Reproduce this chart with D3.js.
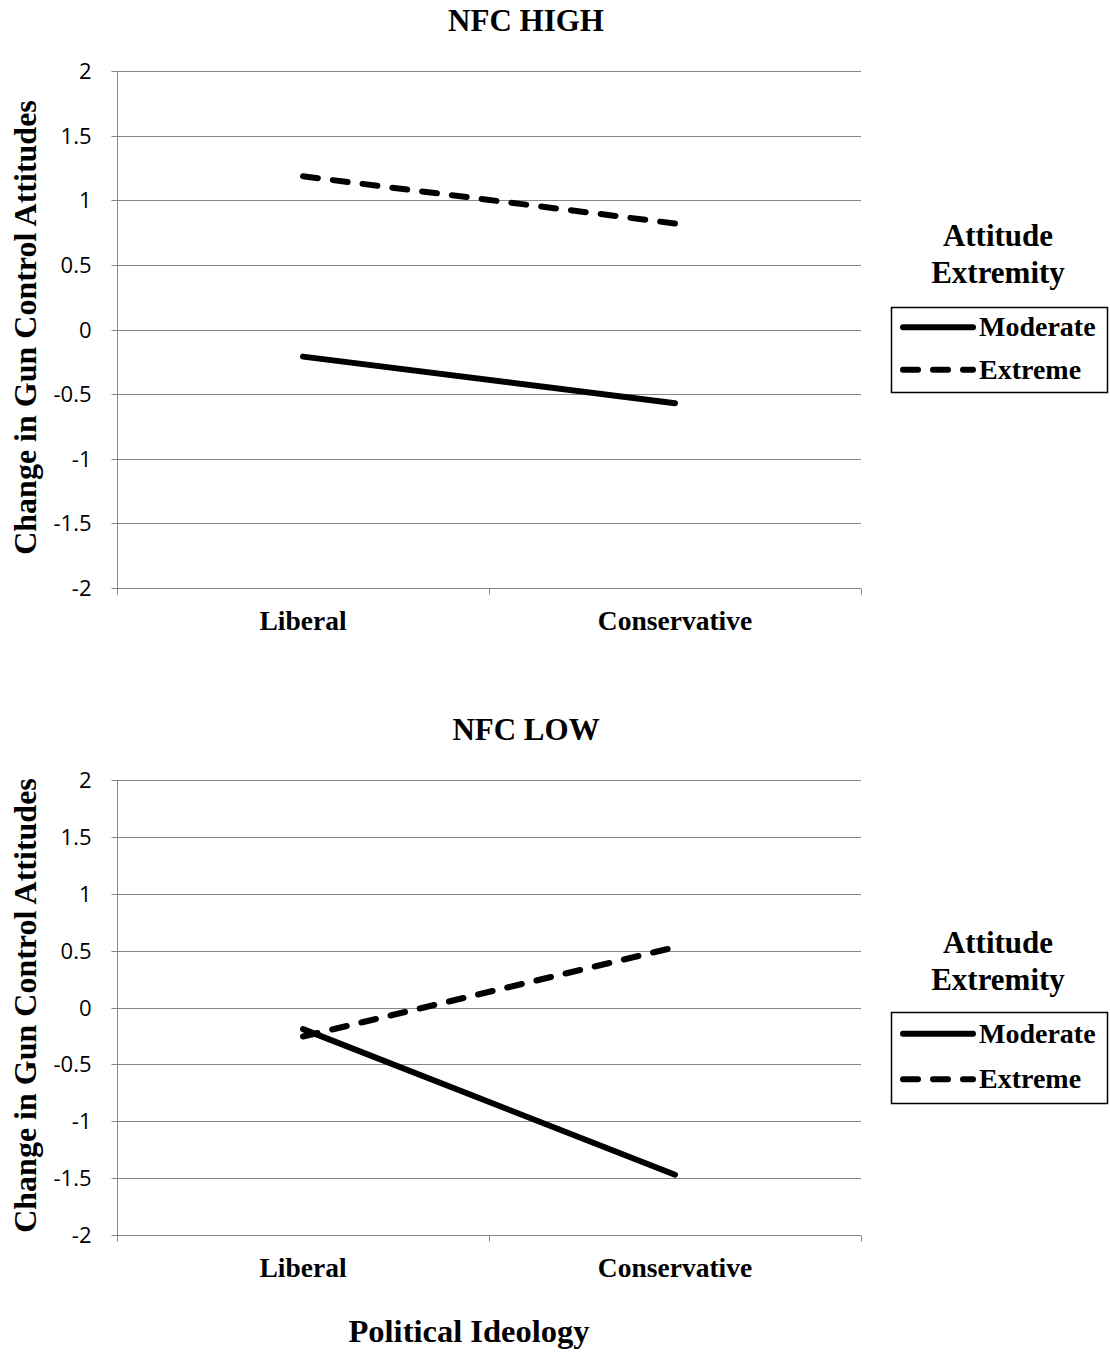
<!DOCTYPE html>
<html><head><meta charset="utf-8">
<script src="https://cdn.jsdelivr.net/npm/d3@7"></script>
<style>
body{margin:0;background:#fff;}
svg{display:block;}
.serif{font-family:"Liberation Serif","Times New Roman",serif;font-weight:bold;fill:#000;}
.tick text{font-family:"Open Sans",Carlito,Calibri,sans-serif;font-size:22px;fill:#000;}
</style></head>
<body>
<script>
const categories = ["Liberal", "Conservative"];
const seriesNames = ["Moderate", "Extreme"];
const highModerate = [-0.21, -0.57];
const highExtreme = [1.185, 0.82];
const lowModerate = [-0.19, -1.47];
const lowExtreme = [-0.255, 0.53];
const yTicks = [2, 1.5, 1, 0.5, 0, -0.5, -1, -1.5, -2];
const yTickLabels = ["2", "1.5", "1", "0.5", "0", "-0.5", "-1", "-1.5", "-2"];
const panelTitles = ["NFC HIGH", "NFC LOW"];

const W = 1110, H = 1352;
const svg = d3.select("body").append("svg").attr("width", W).attr("height", H);

const gridColor = "#878787";
const panels = [
  {title: panelTitles[0], mod: highModerate, ext: highExtreme, top: 71, bottom: 588, titleY: 31, legTitleY: 246, boxTop: 307, boxBottom: 392},
  {title: panelTitles[1], mod: lowModerate, ext: lowExtreme, top: 780, bottom: 1235, titleY: 740, legTitleY: 953, boxTop: 1012, boxBottom: 1103}
];
const left = 117, right = 861;

panels.forEach(p => {
  const g = svg.append("g");
  const y = d3.scaleLinear().domain([-2, 2]).range([p.bottom, p.top]);
  const x = d3.scaleBand().domain(categories).range([left, right]);

  // gridlines
  g.append("g").selectAll("line").data(yTicks).join("line")
    .attr("x1", left).attr("x2", right)
    .attr("y1", d => Math.round(y(d)) + 0.5).attr("y2", d => Math.round(y(d)) + 0.5)
    .attr("stroke", gridColor).attr("stroke-width", 1);

  // y axis
  const yAxis = d3.axisLeft(y).tickValues(yTicks)
    .tickFormat((d, i) => yTickLabels[i]).tickSize(6).tickPadding(20);
  const ya = g.append("g").attr("transform", `translate(${left + 0.5},0)`).call(yAxis);
  ya.select(".domain").attr("stroke", gridColor).attr("d", `M0,${y(2)}V${y(-2)}`);
  ya.selectAll(".tick line").attr("stroke", gridColor);
  ya.selectAll(".tick").attr("transform", d => `translate(0,${Math.round(y(d)) + 0.5})`);

  // x axis
  const xa = g.append("g").attr("transform", `translate(0,${Math.round(y(-2)) + 0.5})`);
  xa.append("line").attr("x1", left).attr("x2", right).attr("stroke", gridColor);
  const bounds = [left, x(categories[1]), right];
  xa.selectAll(".xt").data(bounds).join("line").attr("class", "xt")
    .attr("x1", d => Math.round(d) + 0.5).attr("x2", d => Math.round(d) + 0.5)
    .attr("y1", 0).attr("y2", 6).attr("stroke", gridColor);
  xa.selectAll(".xl").data(categories).join("text").attr("class", "serif xl")
    .attr("x", d => x(d) + x.bandwidth() / 2).attr("y", 41)
    .attr("text-anchor", "middle").attr("font-size", 27.5).text(d => d);

  // title
  g.append("text").attr("class", "serif").attr("x", 526).attr("y", p.titleY)
    .attr("text-anchor", "middle").attr("font-size", 31).text(p.title);

  // y label
  const midY = (p.top + p.bottom) / 2 - 2;
  g.append("text").attr("class", "serif")
    .attr("transform", `translate(36,${midY}) rotate(-90)`)
    .attr("text-anchor", "middle").attr("font-size", 32)
    .text("Change in Gun Control Attitudes");

  // lines
  const line = d3.line().x((d, i) => x(categories[i]) + x.bandwidth() / 2).y(d => y(d));
  g.append("path").attr("d", line(p.mod)).attr("fill", "none").attr("stroke", "#000")
    .attr("stroke-width", 6).attr("stroke-linecap", "round");
  g.append("path").attr("d", line(p.ext)).attr("fill", "none").attr("stroke", "#000")
    .attr("stroke-width", 6).attr("stroke-linecap", "round").attr("stroke-dasharray", "15,15");

  // legend
  const lg = g.append("g");
  lg.append("text").attr("class", "serif").attr("x", 998).attr("y", p.legTitleY)
    .attr("text-anchor", "middle").attr("font-size", 31).text("Attitude");
  lg.append("text").attr("class", "serif").attr("x", 998).attr("y", p.legTitleY + 37)
    .attr("text-anchor", "middle").attr("font-size", 31).text("Extremity");
  lg.append("rect").attr("x", 891.5).attr("y", p.boxTop + 0.5).attr("width", 216)
    .attr("height", p.boxBottom - p.boxTop).attr("fill", "none").attr("stroke", "#000").attr("stroke-width", 1.5);
  const rowH = (p.boxBottom - p.boxTop) / 2;
  seriesNames.forEach((s, i) => {
    const cy = p.boxTop + rowH * (i + 0.5) - 1;
    lg.append("line").attr("x1", 903).attr("x2", 973).attr("y1", cy).attr("y2", cy)
      .attr("stroke", "#000").attr("stroke-width", 6).attr("stroke-linecap", "round")
      .attr("stroke-dasharray", i === 1 ? "15,15" : null);
    lg.append("text").attr("class", "serif").attr("x", 979).attr("y", cy + 9)
      .attr("font-size", 28).text(s);
  });
});

svg.append("text").attr("class", "serif").attr("x", 469).attr("y", 1342)
  .attr("text-anchor", "middle").attr("font-size", 32.5).text("Political Ideology");
</script>
</body></html>
